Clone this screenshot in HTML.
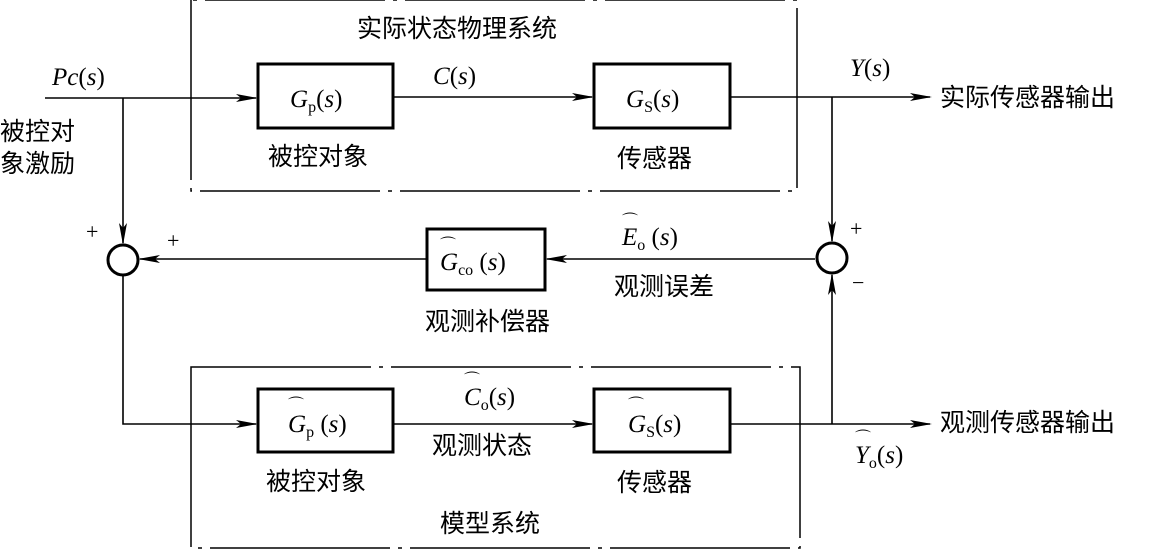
<!DOCTYPE html>
<html><head><meta charset="utf-8"><style>
body{margin:0;background:#fff}
svg text{font-family:"Liberation Serif","Noto Serif CJK SC",serif;fill:#000}
.c{font-family:"Liberation Sans","Noto Sans CJK SC",sans-serif;font-size:25px}
.m{font-style:italic;font-size:25px}
</style></head><body>
<svg width="1156" height="550" viewBox="0 0 1156 550" xmlns="http://www.w3.org/2000/svg">
<defs><marker id="a" markerWidth="22" markerHeight="10" refX="20" refY="5" orient="auto" markerUnits="userSpaceOnUse"><path d="M0,1 L22,5 L0,9 L5,5Z" fill="#000"/></marker></defs>
<g fill="none" stroke="#000" stroke-width="1.5">
<path d="M191,0 V191 H797 V0 H191" stroke-dasharray="180,8,4,8"/>
<path d="M191,367 H800 V548 H191 Z" stroke-dasharray="180,8,4,8"/>
</g>
<g fill="none" stroke="#000" stroke-width="3">
<rect x="258" y="64" width="135" height="64"/>
<rect x="594" y="64" width="136" height="64"/>
<rect x="427" y="229" width="118" height="61"/>
<rect x="258" y="389" width="135" height="63"/>
<rect x="594" y="389" width="136" height="63"/>
<circle cx="123" cy="260" r="15"/>
<circle cx="832" cy="258" r="15"/>
</g>
<g fill="none" stroke="#000" stroke-width="1.6">
<path d="M45,98 H256" marker-end="url(#a)"/>
<path d="M393,97 H592" marker-end="url(#a)"/>
<path d="M730,97 H930" marker-end="url(#a)"/>
<path d="M123,98 V243" marker-end="url(#a)"/>
<path d="M832,97 V241" marker-end="url(#a)"/>
<path d="M815,259 H547" marker-end="url(#a)"/>
<path d="M427,259 H140" marker-end="url(#a)"/>
<path d="M123,275 V424 H256" marker-end="url(#a)"/>
<path d="M393,424 H592" marker-end="url(#a)"/>
<path d="M730,424 H930" marker-end="url(#a)"/>
<path d="M832,424 V275" marker-end="url(#a)"/>
</g>
<text class="c" x="357" y="37">实际状态物理系统</text>
<text class="m" x="52" y="85">Pc<tspan font-style="normal">(</tspan>s<tspan font-style="normal">)</tspan></text>
<text class="c" x="0" y="140">被控对</text>
<text class="c" x="0" y="172">象激励</text>
<text class="m" x="433" y="84">C<tspan font-style="normal">(</tspan>s<tspan font-style="normal">)</tspan></text>
<text class="m" x="850" y="76">Y<tspan font-style="normal">(</tspan>s<tspan font-style="normal">)</tspan></text>
<text class="c" x="940" y="106">实际传感器输出</text>
<text class="m" x="290" y="107">G<tspan font-style="normal" font-size="16" dy="5">p</tspan><tspan font-style="normal" dy="-5">(</tspan>s<tspan font-style="normal">)</tspan></text>
<text class="m" x="626" y="107">G<tspan font-style="normal" font-size="16" dy="5">S</tspan><tspan font-style="normal" dy="-5">(</tspan>s<tspan font-style="normal">)</tspan></text>
<text class="c" x="268" y="165">被控对象</text>
<text class="c" x="617" y="167">传感器</text>
<text x="86" y="239" font-size="22">+</text>
<text x="167" y="248" font-size="22">+</text>
<text x="850" y="236" font-size="22">+</text>
<text x="852" y="290" font-size="22">−</text>
<text class="m" x="440" y="270">G<tspan font-style="normal" font-size="16" dy="5">co</tspan><tspan font-style="normal" dy="-5"> (</tspan>s<tspan font-style="normal">)</tspan></text>
<text x="440" y="250" font-size="16">⌒</text>
<text class="m" x="622" y="245">E<tspan font-style="normal" font-size="16" dy="5">o</tspan><tspan font-style="normal" dy="-5"> (</tspan>s<tspan font-style="normal">)</tspan></text>
<text x="622" y="226" font-size="16">⌒</text>
<text class="c" x="614" y="295">观测误差</text>
<text class="c" x="425" y="330">观测补偿器</text>
<text class="m" x="464" y="405">C<tspan font-style="normal" font-size="16" dy="5">o</tspan><tspan font-style="normal" dy="-5">(</tspan>s<tspan font-style="normal">)</tspan></text>
<text x="464" y="385" font-size="16">⌒</text>
<text class="c" x="432" y="454">观测状态</text>
<text class="m" x="288" y="432">G<tspan font-style="normal" font-size="16" dy="5">p</tspan><tspan font-style="normal" dy="-5"> (</tspan>s<tspan font-style="normal">)</tspan></text>
<text x="288" y="410" font-size="16">⌒</text>
<text class="m" x="628" y="432">G<tspan font-style="normal" font-size="16" dy="5">S</tspan><tspan font-style="normal" dy="-5">(</tspan>s<tspan font-style="normal">)</tspan></text>
<text x="628" y="410" font-size="16">⌒</text>
<text class="c" x="940" y="431">观测传感器输出</text>
<text class="m" x="855" y="463">Y<tspan font-style="normal" font-size="16" dy="5">o</tspan><tspan font-style="normal" dy="-5">(</tspan>s<tspan font-style="normal">)</tspan></text>
<text x="855" y="443" font-size="16">⌒</text>
<text class="c" x="266" y="490">被控对象</text>
<text class="c" x="617" y="491">传感器</text>
<text class="c" x="440" y="532">模型系统</text>
</svg>
</body></html>
